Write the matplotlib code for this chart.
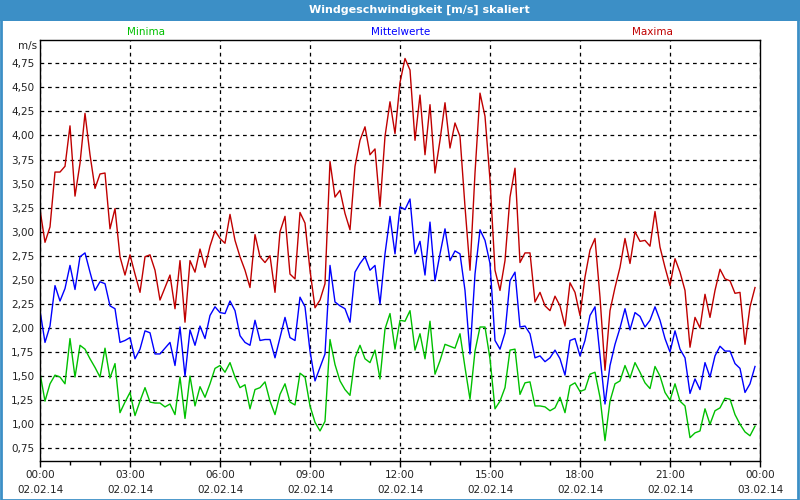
import numpy as np
import pandas as pd
import matplotlib
matplotlib.use('Agg')
import matplotlib.pyplot as plt
import matplotlib.dates as mdates
from matplotlib.ticker import FuncFormatter, MultipleLocator
from matplotlib.patches import Rectangle

# 10-Minuten-Werte vom 02.02.14
times = pd.date_range('2014-02-02 00:00', periods=144, freq='10min')

maxima = [3.23, 2.89, 3.05, 3.62, 3.62, 3.68, 4.10, 3.37, 3.71, 4.23, 3.80, 3.45, 3.60, 3.61, 3.03, 3.24,
          2.74, 2.55, 2.76, 2.56, 2.37, 2.74, 2.76, 2.60, 2.29, 2.42, 2.55, 2.20, 2.70, 2.06, 2.70, 2.58,
          2.82, 2.63, 2.85, 3.01, 2.93, 2.88, 3.18, 2.91, 2.74, 2.60, 2.42, 2.97, 2.74, 2.68, 2.75, 2.37,
          3.00, 3.16, 2.56, 2.51, 3.20, 3.09, 2.60, 2.21, 2.29, 2.46, 3.73, 3.36, 3.43, 3.19, 3.02, 3.68,
          3.95, 4.09, 3.80, 3.86, 3.26, 3.99, 4.35, 4.02, 4.55, 4.80, 4.68, 3.95, 4.42, 3.80, 4.32, 3.61,
          3.95, 4.34, 3.87, 4.13, 3.99, 3.26, 2.60, 3.61, 4.44, 4.20, 3.54, 2.60, 2.39, 2.70, 3.36, 3.66,
          2.68, 2.78, 2.78, 2.27, 2.37, 2.23, 2.18, 2.33, 2.23, 2.02, 2.47, 2.37, 2.13, 2.53, 2.81, 2.93,
          2.32, 1.56, 2.18, 2.42, 2.63, 2.93, 2.67, 3.00, 2.90, 2.91, 2.85, 3.21, 2.84, 2.63, 2.44, 2.72,
          2.58, 2.39, 1.80, 2.11, 2.00, 2.35, 2.11, 2.39, 2.61, 2.51, 2.49, 2.36, 2.37, 1.83, 2.22, 2.42]

mittelwerte = [2.18, 1.85, 2.02, 2.44, 2.28, 2.41, 2.65, 2.40, 2.74, 2.78, 2.58, 2.39, 2.48, 2.46, 2.23, 2.20,
               1.85, 1.87, 1.90, 1.68, 1.78, 1.97, 1.95, 1.73, 1.73, 1.79, 1.85, 1.61, 2.01, 1.50, 1.98, 1.82,
               2.02, 1.89, 2.13, 2.22, 2.16, 2.15, 2.28, 2.18, 1.92, 1.85, 1.82, 2.08, 1.87, 1.88, 1.88, 1.69,
               1.90, 2.11, 1.90, 1.87, 2.32, 2.22, 1.76, 1.45, 1.59, 1.73, 2.65, 2.27, 2.23, 2.20, 2.06, 2.58,
               2.67, 2.74, 2.60, 2.65, 2.25, 2.77, 3.16, 2.77, 3.26, 3.23, 3.34, 2.77, 2.90, 2.55, 3.10, 2.49,
               2.77, 3.03, 2.70, 2.80, 2.77, 2.39, 1.73, 2.56, 3.02, 2.91, 2.67, 1.87, 1.78, 1.95, 2.49, 2.58,
               2.01, 2.02, 1.94, 1.69, 1.71, 1.65, 1.69, 1.77, 1.68, 1.51, 1.87, 1.89, 1.71, 1.87, 2.13, 2.22,
               1.71, 1.21, 1.61, 1.83, 2.00, 2.20, 1.98, 2.16, 2.12, 2.01, 2.08, 2.22, 2.08, 1.89, 1.75, 1.97,
               1.78, 1.69, 1.32, 1.47, 1.36, 1.64, 1.49, 1.71, 1.81, 1.76, 1.76, 1.63, 1.58, 1.33, 1.42, 1.60]

minima = [1.53, 1.24, 1.42, 1.51, 1.49, 1.42, 1.89, 1.49, 1.82, 1.78, 1.68, 1.59, 1.49, 1.79, 1.48, 1.63,
          1.12, 1.23, 1.33, 1.09, 1.24, 1.38, 1.23, 1.22, 1.22, 1.18, 1.21, 1.10, 1.49, 1.06, 1.50, 1.19,
          1.39, 1.28, 1.42, 1.58, 1.61, 1.54, 1.64, 1.49, 1.38, 1.41, 1.16, 1.36, 1.38, 1.44, 1.24, 1.10,
          1.31, 1.42, 1.23, 1.20, 1.53, 1.49, 1.19, 1.02, 0.93, 1.03, 1.88, 1.62, 1.45, 1.36, 1.30, 1.69,
          1.82, 1.68, 1.64, 1.77, 1.47, 1.99, 2.15, 1.78, 2.08, 2.07, 2.18, 1.77, 1.94, 1.68, 2.07, 1.52,
          1.66, 1.83, 1.81, 1.79, 1.94, 1.59, 1.26, 1.76, 2.01, 2.01, 1.68, 1.16, 1.24, 1.38, 1.77, 1.78,
          1.31, 1.43, 1.44, 1.19, 1.19, 1.18, 1.14, 1.17, 1.28, 1.12, 1.40, 1.43, 1.34, 1.36, 1.52, 1.54,
          1.28, 0.83, 1.24, 1.42, 1.45, 1.61, 1.48, 1.64, 1.54, 1.43, 1.37, 1.60, 1.50, 1.33, 1.25, 1.42,
          1.24, 1.19, 0.86, 0.91, 0.93, 1.16, 1.00, 1.14, 1.17, 1.27, 1.26, 1.10, 1.00, 0.92, 0.88, 0.98]

frame_blue = '#3C8FC6'
plt.rcParams['font.family'] = ['DejaVu Sans']

fig = plt.figure(figsize=(8, 5), dpi=100)
fig.patch.set_facecolor('white')
ax = fig.add_axes([0.05, 0.079, 0.90, 0.8406])

ax.plot(times, maxima, color='#C00000', lw=1)
ax.plot(times, mittelwerte, color='#0000FF', lw=1)
ax.plot(times, minima, color='#00C000', lw=1)

ax.set_xlim(pd.Timestamp('2014-02-02 00:00'), pd.Timestamp('2014-02-03 00:00'))
ax.set_ylim(0.623, 4.99)

ax.yaxis.set_major_locator(MultipleLocator(0.25))
ax.yaxis.set_major_formatter(FuncFormatter(lambda v, p: f'{v:.2f}'.replace('.', ',')))
ax.xaxis.set_major_locator(mdates.HourLocator(byhour=range(0, 24, 3)))
ax.xaxis.set_minor_locator(mdates.HourLocator())
ax.xaxis.set_major_formatter(mdates.DateFormatter('%H:%M\n%d.%m.%y'))

ax.tick_params(axis='y', length=0, pad=4, labelsize=7.5, labelcolor='#222222')
ax.tick_params(axis='x', which='major', length=4, width=1, pad=3, labelsize=7.5, labelcolor='#222222')
ax.tick_params(axis='x', which='minor', length=3, width=1)
for lab in ax.get_xticklabels():
    lab.set_linespacing(1.6)

ax.grid(True, which='major', color='black', linestyle=(0, (3, 3)), lw=0.9)
for s in ax.spines.values():
    s.set_color('black')
    s.set_linewidth(1)

# Titelzeile und Rahmen
fig.patches.append(Rectangle((0, 0.958), 1, 0.042, transform=fig.transFigure,
                             facecolor=frame_blue, edgecolor='none'))
fig.patches.append(Rectangle((0.001, 0.001), 0.997, 0.997, transform=fig.transFigure,
                             fill=False, edgecolor=frame_blue, lw=2))
fig.text(419 / 800, 1 - 10 / 500, 'Windgeschwindigkeit [m/s] skaliert', color='white',
         fontsize=8, fontweight='bold', ha='center', va='center')

fig.text(146 / 800, 1 - 32 / 500, 'Minima', color='#00C000', fontsize=7.5, ha='center', va='center')
fig.text(401 / 800, 1 - 32 / 500, 'Mittelwerte', color='#0000FF', fontsize=7.5, ha='center', va='center')
fig.text(652 / 800, 1 - 32 / 500, 'Maxima', color='#C00000', fontsize=7.5, ha='center', va='center')
fig.text(37 / 800, 1 - 46 / 500, 'm/s', color='#222222', fontsize=7.5, ha='right', va='center')

fig.savefig('out.png', dpi=100)
